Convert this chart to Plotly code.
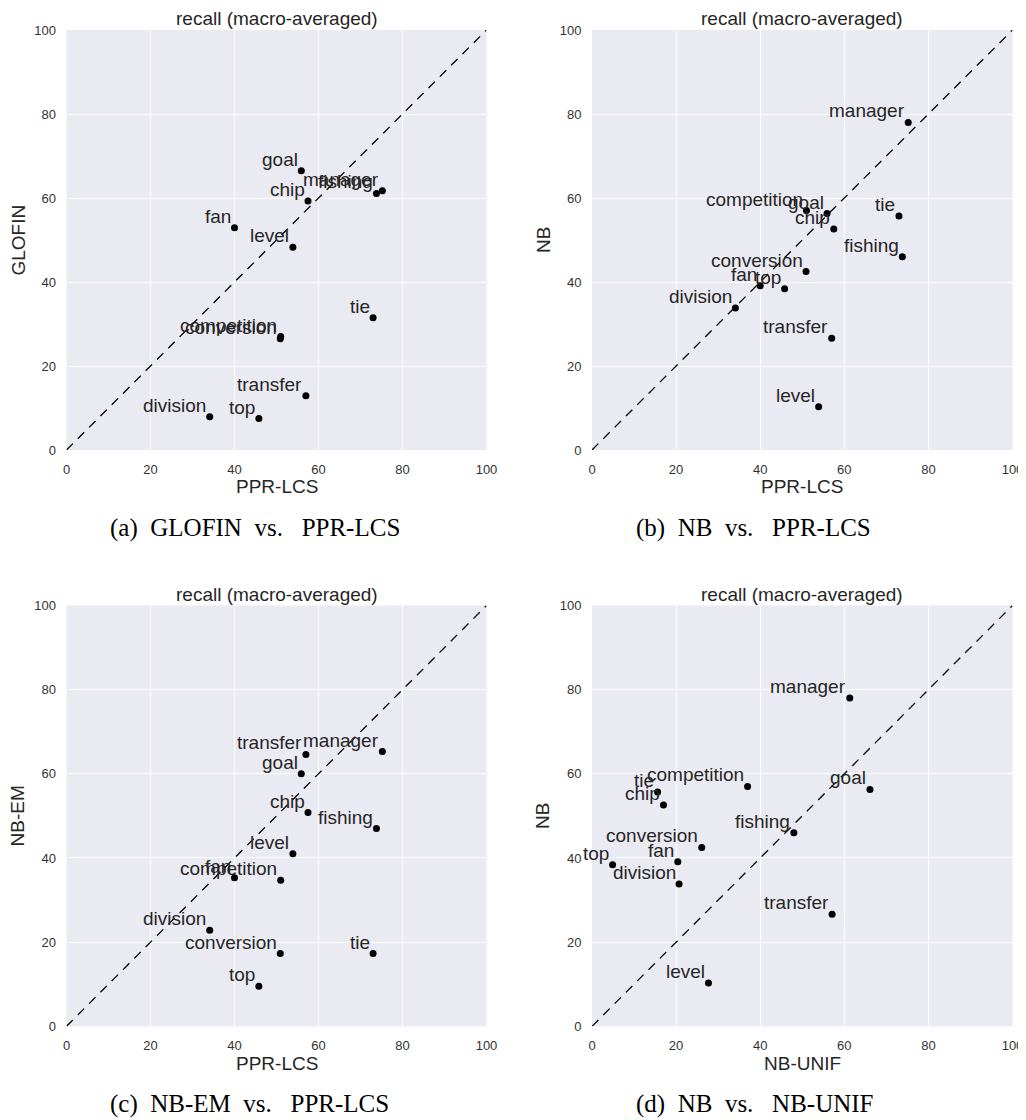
import plotly.graph_objects as go

W, H = 1026, 1120
OFF = 8  # page body margin in the browser; layout is given in screen pixels

words = ["goal", "manager", "fishing", "chip", "fan", "level", "tie",
         "competition", "conversion", "transfer", "division", "top"]

ppr_lcs = [55.9, 75.2, 73.8, 57.5, 40.0, 53.9, 73.0, 51.0, 50.9, 57.0, 34.1, 45.8]
glofin  = [66.5, 61.7, 61.1, 59.3, 52.9, 48.3, 31.5, 27.0, 26.5, 12.9, 7.9, 7.5]
nb      = [56.3, 78.0, 46.0, 52.6, 39.1, 10.3, 55.7, 57.0, 42.5, 26.6, 33.8, 38.4]
nb_em   = [60.0, 65.3, 47.0, 50.8, 35.3, 41.0, 17.3, 34.7, 17.3, 64.6, 22.8, 9.5]
nb_unif = [66.1, 61.3, 48.0, 17.0, 20.4, 27.7, 15.6, 37.0, 26.1, 57.1, 20.7, 4.9]

diag = [0, 100]
tick_vals = [0, 20, 40, 60, 80, 100]

NB = "\u00a0"
panels = [
    (ppr_lcs, glofin, "PPR-LCS", "GLOFIN", "(a)" + NB + " GLOFIN" + NB + " vs." + NB + NB + " PPR-LCS"),
    (ppr_lcs, nb, "PPR-LCS", "NB", "(b)" + NB + " NB" + NB + " vs." + NB + NB + " PPR-LCS"),
    (ppr_lcs, nb_em, "PPR-LCS", "NB-EM", "(c)" + NB + " NB-EM" + NB + " vs." + NB + NB + " PPR-LCS"),
    (nb_unif, nb, "NB-UNIF", "NB", "(d)" + NB + " NB" + NB + " vs." + NB + NB + " NB-UNIF"),
]

# screen-pixel geometry of plot areas
xdom_px = [(66.5, 486.5), (592.0, 1012.5)]
ydom_px = [(30.0, 450.0), (605.5, 1026.3)]

TXT = "#262626"
SANS = "Liberation Sans, Arial, sans-serif"
SERIF = "Liberation Serif, Times New Roman, serif"


def px_x(p):
    return (p - OFF) / W


def px_y(p):
    return 1 - (p - OFF) / H


fig = go.Figure()
layout = dict(
    width=W, height=H,
    margin=dict(l=0, r=0, t=0, b=0, pad=0, autoexpand=False),
    paper_bgcolor="white",
    plot_bgcolor="#EAEAF2",
    showlegend=False,
    font=dict(family=SANS, color=TXT),
)
annotations = []

for i, (xv, yv, xl, yl, cap) in enumerate(panels):
    col = i % 2
    row = i // 2
    n = i + 1
    xs = "" if n == 1 else str(n)
    x0p, x1p = xdom_px[col]
    y0p, y1p = ydom_px[row]
    xd = [px_x(x0p), px_x(x1p)]
    yd = [px_y(y1p), px_y(y0p)]

    axis_common = dict(
        range=[0, 100], tickvals=tick_vals, showgrid=True, gridcolor="white",
        gridwidth=1.2, zeroline=False, showline=False, automargin=False,
        ticks="outside", ticklen=7, tickcolor="rgba(0,0,0,0)",
        tickfont=dict(size=13, color="#333333", family=SANS), fixedrange=True,
    )
    layout["xaxis" + xs] = dict(axis_common, domain=xd, anchor="y" + xs)
    layout["yaxis" + xs] = dict(axis_common, domain=yd, anchor="x" + xs)

    fig.add_trace(go.Scatter(
        x=diag, y=diag, mode="lines",
        line=dict(color="black", width=1.3, dash="9px,7px"),
        xaxis="x" + xs, yaxis="y" + xs, hoverinfo="skip", cliponaxis=True,
    ))
    fig.add_trace(go.Scatter(
        x=xv, y=yv, mode="markers",
        marker=dict(size=7, color="black"),
        xaxis="x" + xs, yaxis="y" + xs, cliponaxis=False,
    ))
    for w, xx, yy in zip(words, xv, yv):
        annotations.append(dict(
            text=w, x=xx, y=yy, xref="x" + xs, yref="y" + xs,
            xanchor="right", yanchor="bottom", xshift=-2.5, yshift=0,
            showarrow=False, borderpad=0,
            font=dict(size=19, color=TXT, family=SANS),
        ))

    cx = (x0p + x1p) / 2
    annotations.append(dict(
        text="recall (macro-averaged)", x=px_x(cx), y=px_y(y0p - 11),
        xref="paper", yref="paper", xanchor="center", yanchor="middle",
        showarrow=False, font=dict(size=19, color=TXT, family=SANS),
    ))
    annotations.append(dict(
        text=xl, x=px_x(cx), y=px_y(y1p + 37),
        xref="paper", yref="paper", xanchor="center", yanchor="middle",
        showarrow=False, font=dict(size=19, color=TXT, family=SANS),
    ))
    annotations.append(dict(
        text=yl, x=px_x(x0p - 49), y=px_y((y0p + y1p) / 2),
        xref="paper", yref="paper", xanchor="center", yanchor="middle",
        textangle=-90, showarrow=False,
        font=dict(size=19, color=TXT, family=SANS),
    ))
    annotations.append(dict(
        text=cap, x=px_x(x0p + 41.5), y=px_y(y1p + 78),
        xref="paper", yref="paper", xanchor="left", yanchor="middle",
        showarrow=False,
        font=dict(size=25, color="black", family=SERIF),
    ))

layout["annotations"] = annotations
fig.update_layout(**layout)
fig.write_html("out.html")
